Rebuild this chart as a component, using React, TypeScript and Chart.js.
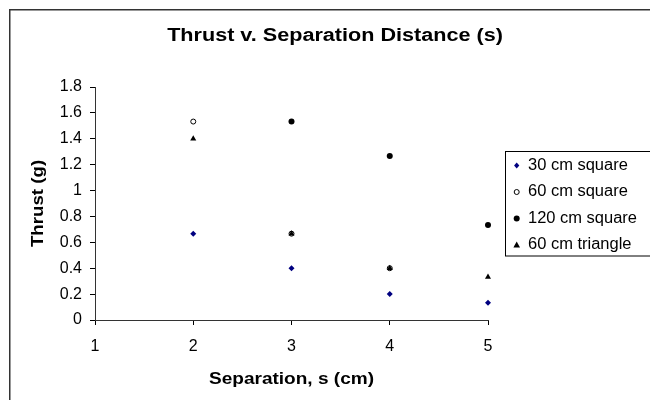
import React, { useEffect, useRef } from "react";
import { Chart, registerables } from "chart.js";

Chart.register(...registerables);

// ---- data ----
const titleText = "Thrust v. Separation Distance (s)";
const xAxisTitle = "Separation, s (cm)";
const yAxisTitle = "Thrust (g)";
const seriesNames = ["30 cm square", "60 cm square", "120 cm square", "60 cm triangle"];

const sq30X = [2, 3, 4, 5];
const sq30Y = [0.667, 0.4, 0.2, 0.133];
const sq60X = [2, 3, 4];
const sq60Y = [1.533, 0.667, 0.4];
const sq120X = [3, 4, 5];
const sq120Y = [1.533, 1.267, 0.733];
const tri60X = [2, 3, 4, 5];
const tri60Y = [1.4, 0.667, 0.4, 0.333];

const xMin = 1;
const xMax = 5;
const yMin = 0;
const yMax = 1.8;
const yStep = 0.2;

const FONT = "'Liberation Sans', Arial, sans-serif";

const pts = (xs: number[], ys: number[]) => xs.map((x, i) => ({ x, y: ys[i] }));

type MarkerStyle = "diamond" | "open" | "dot" | "tri";
const markerStyles: MarkerStyle[] = ["diamond", "open", "dot", "tri"];

function drawMarker(ctx: CanvasRenderingContext2D, s: MarkerStyle, x: number, y: number) {
  ctx.save();
  ctx.beginPath();
  if (s === "diamond") {
    ctx.fillStyle = "#000080";
    ctx.moveTo(x, y - 3);
    ctx.lineTo(x + 2.6, y);
    ctx.lineTo(x, y + 3);
    ctx.lineTo(x - 2.6, y);
    ctx.closePath();
    ctx.fill();
  } else if (s === "open") {
    ctx.fillStyle = "#fff";
    ctx.strokeStyle = "#000";
    ctx.lineWidth = 1;
    ctx.arc(x, y, 2.5, 0, Math.PI * 2);
    ctx.fill();
    ctx.stroke();
  } else if (s === "dot") {
    ctx.fillStyle = "#000";
    ctx.arc(x, y, 3, 0, Math.PI * 2);
    ctx.fill();
  } else {
    ctx.fillStyle = "#000";
    ctx.moveTo(x, y - 3.5);
    ctx.lineTo(x + 3.3, y + 2.5);
    ctx.lineTo(x - 3.3, y + 2.5);
    ctx.closePath();
    ctx.fill();
  }
  ctx.restore();
}

const decorPlugin = {
  id: "decor",
  afterDraw(chart: any) {
    const ctx: CanvasRenderingContext2D = chart.ctx;
    const area = chart.chartArea;
    ctx.save();
    // outer frame
    ctx.strokeStyle = "#333";
    ctx.lineWidth = 1.5;
    ctx.strokeRect(9.75, 9.75, 700, 500);

    ctx.fillStyle = "#000";
    ctx.textBaseline = "middle";
    ctx.textAlign = "center";

    // title
    ctx.save();
    ctx.font = `bold 18px ${FONT}`;
    ctx.translate(335, 36);
    ctx.scale(1.2, 1);
    ctx.fillText(titleText, 0, 0);
    ctx.restore();

    // x axis title
    ctx.save();
    ctx.font = `bold 17px ${FONT}`;
    ctx.translate((area.left + area.right) / 2, 379);
    ctx.scale(1.12, 1);
    ctx.fillText(xAxisTitle, 0, 0);
    ctx.restore();

    // y axis title
    ctx.save();
    ctx.font = `bold 17px ${FONT}`;
    ctx.translate(38.5, (area.top + area.bottom) / 2);
    ctx.rotate(-Math.PI / 2);
    ctx.scale(1.1, 1);
    ctx.fillText(yAxisTitle, 0, 0);
    ctx.restore();

    // legend
    ctx.strokeStyle = "#000";
    ctx.lineWidth = 1;
    ctx.strokeRect(505.5, 151.5, 200, 104.5);
    const rows = [165.5, 192, 218.5, 245];
    ctx.textAlign = "left";
    ctx.font = `16px ${FONT}`;
    seriesNames.forEach((name, i) => {
      drawMarker(ctx, markerStyles[i], 516.7, rows[i]);
      ctx.save();
      ctx.translate(528, rows[i]);
      ctx.scale(1.03, 1);
      ctx.fillStyle = "#000";
      ctx.fillText(name, 0, 0);
      ctx.restore();
    });
    ctx.restore();
  },
};

export default function App() {
  const ref = useRef<HTMLCanvasElement | null>(null);

  useEffect(() => {
    if (!ref.current) return;
    const chart = new Chart(ref.current, {
      type: "scatter",
      data: {
        datasets: [
          {
            label: seriesNames[0],
            data: pts(sq30X, sq30Y),
            pointStyle: "rectRot",
            pointRadius: 3,
            backgroundColor: "#000080",
            borderColor: "#000080",
            borderWidth: 0,
            clip: false,
            order: 1,
          },
          {
            label: seriesNames[1],
            data: pts(sq60X, sq60Y),
            pointStyle: "circle",
            pointRadius: 2.5,
            backgroundColor: "#ffffff",
            borderColor: "#000000",
            borderWidth: 1,
            clip: false,
            order: 3,
          },
          {
            label: seriesNames[2],
            data: pts(sq120X, sq120Y),
            pointStyle: "circle",
            pointRadius: 3,
            backgroundColor: "#000000",
            borderColor: "#000000",
            borderWidth: 0,
            clip: false,
            order: 2,
          },
          {
            label: seriesNames[3],
            data: pts(tri60X, tri60Y),
            pointStyle: "triangle",
            pointRadius: 3.5,
            backgroundColor: "#000000",
            borderColor: "#000000",
            borderWidth: 0,
            clip: false,
            order: 0,
          },
        ],
      },
      options: {
        animation: false,
        responsive: false,
        devicePixelRatio: 1,
        layout: { padding: { left: 0, top: 87, right: 162, bottom: 0 } },
        plugins: {
          legend: { display: false },
          tooltip: { enabled: false },
          title: { display: false },
        },
        scales: {
          x: {
            type: "linear",
            min: xMin,
            max: xMax,
            afterFit: (s: any) => {
              s.height = 80;
            },
            ticks: {
              stepSize: 1,
              color: "#000",
              font: { family: FONT, size: 16 },
              padding: 12,
            },
            grid: {
              display: true,
              drawOnChartArea: false,
              drawTicks: true,
              tickLength: 5,
              color: "#000",
            },
            border: { display: true, color: "#333", width: 1 },
          },
          y: {
            type: "linear",
            min: yMin,
            max: yMax,
            afterFit: (s: any) => {
              s.width = 95;
            },
            ticks: {
              stepSize: yStep,
              color: "#000",
              font: { family: FONT, size: 16 },
              padding: 8,
              callback: (v: any) => String(Math.round(Number(v) * 10) / 10),
            },
            grid: {
              display: true,
              drawOnChartArea: false,
              drawTicks: true,
              tickLength: 5,
              color: "#000",
            },
            border: { display: true, color: "#333", width: 1 },
          },
        },
      },
      plugins: [decorPlugin],
    } as any);
    return () => chart.destroy();
  }, []);

  return (
    <div style={{ position: "fixed", left: 0, top: 0, width: 650, height: 400, background: "#fff" }}>
      <canvas ref={ref} width={650} height={400} style={{ display: "block" }} />
    </div>
  );
}
